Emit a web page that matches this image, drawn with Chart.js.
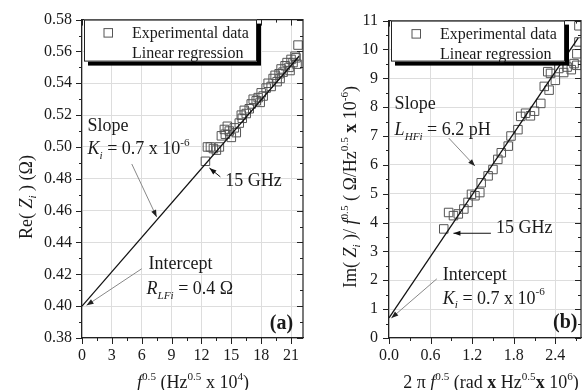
<!DOCTYPE html>
<html>
<head>
<meta charset="utf-8">
<script src="https://cdn.jsdelivr.net/npm/chart.js@4.4.1/dist/chart.umd.min.js"></script>
<style>
    html, body { margin: 0; padding: 0; background: #fff; }
    #wrap { position: relative; width: 588px; height: 390px; overflow: hidden; }
    #chartA { position: absolute; left: 0; top: 0; }
    #chartB { position: absolute; left: 310px; top: 0; }
</style>
</head>
<body>
<div id="wrap">
    <canvas id="chartA" width="310" height="390"></canvas>
    <canvas id="chartB" width="278" height="390"></canvas>
</div>
<script>
// ===============================
// DATA - panel (a): Re(Zi) vs f^0.5
// ===============================
const reX = [12.4, 12.6, 12.9, 13.2, 13.5, 13.8, 14.0, 14.3, 14.4, 14.6, 14.8, 15.0, 15.3, 15.5, 15.8,
    16.0, 16.1, 16.3, 16.5, 16.8, 17.0, 17.2, 17.5, 17.7, 17.9, 18.0, 18.2, 18.5, 18.7, 19.0,
    19.2, 19.4, 19.6, 19.8, 19.9, 20.0, 20.2, 20.4, 20.6, 20.8, 20.9, 21.0, 21.2, 21.4, 21.5, 21.6, 21.7];
const reY = [0.491, 0.500, 0.500, 0.499, 0.498, 0.500, 0.507, 0.511, 0.508, 0.513, 0.510, 0.506, 0.512, 0.509, 0.515,
    0.520, 0.518, 0.523, 0.521, 0.524, 0.527, 0.530, 0.529, 0.531, 0.528, 0.534, 0.532, 0.537, 0.540, 0.538,
    0.543, 0.545, 0.541, 0.546, 0.543, 0.549, 0.547, 0.551, 0.553, 0.550, 0.548, 0.555, 0.553, 0.557, 0.556, 0.552, 0.564];
const reFitX = [0, 21.8];
const reFitY = [0.400, 0.557];
const reXTicks = [0, 3, 6, 9, 12, 15, 18, 21];
const reYTicks = [0.38, 0.40, 0.42, 0.44, 0.46, 0.48, 0.50, 0.52, 0.54, 0.56, 0.58];

// ===============================
// DATA - panel (b): Im(Zi)/f^0.5 vs 2 pi f^0.5
// ===============================
const imX = [0.79, 0.86, 0.93, 1.00, 1.08, 1.14, 1.19, 1.24, 1.31, 1.33, 1.43, 1.50, 1.57, 1.62, 1.72, 1.76,
    1.86, 1.90, 1.97, 2.04, 2.10, 2.19, 2.24, 2.29, 2.31, 2.33, 2.40, 2.45, 2.52, 2.57, 2.63, 2.67, 2.71, 2.71, 2.74, 2.74];
const imY = [3.78, 4.35, 4.24, 4.30, 4.47, 4.70, 4.98, 4.93, 5.04, 5.38, 5.62, 5.84, 6.19, 6.42, 6.65, 7.00,
    7.22, 7.68, 7.79, 7.70, 7.86, 8.13, 8.72, 9.23, 8.59, 9.17, 8.93, 9.34, 9.20, 9.39, 9.30, 9.51, 9.45, 9.85, 10.26, 10.82];
const imFitX = [0, 2.73];
const imFitY = [0.70, 10.40];
const imXTicks = [0, 0.6, 1.2, 1.8, 2.4];
const imYTicks = [0, 1, 2, 3, 4, 5, 6, 7, 8, 9, 10, 11];

// ===============================
// TEXT HELPERS
// ===============================
const SERIF = '"Liberation Serif", "Times New Roman", serif';
const INK = '#1a1a1a';

// segs: [{t, i (italic), b (bold), sup, sub}]
function drawRich(ctx, x, y, segs, size, align, rot) {
    ctx.save();
    ctx.translate(x, y);
    if (rot) ctx.rotate(rot);
    let total = 0;
    const parts = segs.map(s => {
        const fs = (s.sup || s.sub) ? size * 0.62 : size;
        const font = (s.i ? 'italic ' : '') + (s.b ? 'bold ' : '') + fs + 'px ' + SERIF;
        ctx.font = font;
        const w = ctx.measureText(s.t).width;
        const dy = s.sup ? -size * 0.45 : s.sub ? size * 0.25 : 0;
        total += w;
        return { t: s.t, font, w, dy };
    });
    let cx = align === 'center' ? -total / 2 : align === 'right' ? -total : 0;
    ctx.textBaseline = 'alphabetic';
    ctx.textAlign = 'left';
    ctx.fillStyle = INK;
    const base = size * 0.33;
    parts.forEach(p => {
        ctx.font = p.font;
        ctx.fillText(p.t, cx, base + p.dy);
        cx += p.w;
    });
    ctx.restore();
}

function arrow(ctx, x1, y1, x2, y2, lineColor, headColor) {
    ctx.save();
    ctx.strokeStyle = lineColor;
    ctx.lineWidth = 1;
    ctx.beginPath();
    ctx.moveTo(x1, y1);
    ctx.lineTo(x2, y2);
    ctx.stroke();
    const ang = Math.atan2(y2 - y1, x2 - x1);
    const len = 7, half = 2.6;
    ctx.fillStyle = headColor;
    ctx.beginPath();
    ctx.moveTo(x2, y2);
    ctx.lineTo(x2 - len * Math.cos(ang) + half * Math.sin(ang), y2 - len * Math.sin(ang) - half * Math.cos(ang));
    ctx.lineTo(x2 - len * Math.cos(ang) - half * Math.sin(ang), y2 - len * Math.sin(ang) + half * Math.cos(ang));
    ctx.closePath();
    ctx.fill();
    ctx.restore();
}

// midpoints between majors (plus one past the last if it fits)
function minorsOf(ticks, max) {
    const out = [];
    for (let i = 0; i < ticks.length - 1; i++) out.push((ticks[i] + ticks[i + 1]) / 2);
    const step = ticks[1] - ticks[0];
    const extra = ticks[ticks.length - 1] + step / 2;
    if (extra <= max) out.push(extra);
    return out;
}

// ===============================
// DECORATION PLUGIN (frame, ticks, legend, notes, titles)
// ===============================
function decor(o) {
    return {
        id: 'decor',
        afterDraw(chart) {
            const { ctx, chartArea: a, scales: { x, y } } = chart;
            ctx.save();
            ctx.strokeStyle = '#222';
            ctx.lineWidth = 1.2;
            ctx.beginPath();
            ctx.moveTo(a.left, a.top);
            ctx.lineTo(a.right, a.top);
            ctx.lineTo(a.right, a.bottom);
            ctx.stroke();

            ctx.lineWidth = 1;
            const tickX = (vals, len) => vals.forEach(v => {
                const px = Math.round(x.getPixelForValue(v)) + 0.5;
                ctx.beginPath(); ctx.moveTo(px, a.bottom); ctx.lineTo(px, a.bottom + len); ctx.stroke();
                ctx.beginPath(); ctx.moveTo(px, a.top); ctx.lineTo(px, a.top + len); ctx.stroke();
            });
            const tickY = (vals, len) => vals.forEach(v => {
                const py = Math.round(y.getPixelForValue(v)) + 0.5;
                ctx.beginPath(); ctx.moveTo(a.left - len, py); ctx.lineTo(a.left, py); ctx.stroke();
                ctx.beginPath(); ctx.moveTo(a.right - len, py); ctx.lineTo(a.right, py); ctx.stroke();
            });
            tickX(o.xTicks, 6);
            tickX(minorsOf(o.xTicks, o.xMax), 3);
            tickY(o.yTicks, 6);
            tickY(minorsOf(o.yTicks, o.yMax), 3);

            // legend box with hard shadow
            const lg = o.legend;
            const lx = a.left + 2, ly = a.top;
            ctx.fillStyle = '#000';
            ctx.fillRect(lx + 4, ly + 4, lg.w, lg.h);
            ctx.fillStyle = '#fff';
            ctx.fillRect(lx, ly, lg.w, lg.h);
            ctx.strokeStyle = '#222';
            ctx.lineWidth = 1;
            ctx.strokeRect(lx + 0.5, ly + 0.5, lg.w - 1, lg.h - 1);
            ctx.strokeStyle = '#555';
            ctx.strokeRect(lx + lg.mx - 4, ly + 13 - 4, 8.5, 8.5);
            drawRich(ctx, lx + lg.tx, ly + 13.5, [{ t: 'Experimental data' }], 16, 'left');
            drawRich(ctx, lx + lg.tx, ly + 33, [{ t: 'Linear regression' }], 16, 'left');

            // arrows
            o.arrows.forEach(ar => arrow(ctx,
                x.getPixelForValue(ar.from[0]), y.getPixelForValue(ar.from[1]),
                x.getPixelForValue(ar.to[0]), y.getPixelForValue(ar.to[1]),
                ar.line, ar.head));

            // notes
            o.notes.forEach(n => drawRich(ctx, x.getPixelForValue(n.x), y.getPixelForValue(n.y),
                n.segs, n.size, n.align || 'left'));

            // axis titles
            drawRich(ctx, o.yTitle.x, o.yTitle.y, o.yTitle.segs, 18, 'center', -Math.PI / 2);
            drawRich(ctx, o.xTitle.x, o.xTitle.y, o.xTitle.segs, 18, 'center');
            ctx.restore();
        }
    };
}

// ===============================
// CHART FACTORY
// ===============================
function makeChart(id, o) {
    const tickFont = { family: SERIF, size: 16 };
    return new Chart(document.getElementById(id), {
        type: 'scatter',
        data: {
            datasets: [
                {
                    type: 'line',
                    data: o.fitX.map((v, i) => ({ x: v, y: o.fitY[i] })),
                    borderColor: '#111', borderWidth: 1.3, pointRadius: 0, fill: false, tension: 0
                },
                {
                    data: o.x.map((v, i) => ({ x: v, y: o.y[i] })),
                    pointStyle: 'rect', pointRadius: 6, borderWidth: 1,
                    borderColor: '#555', backgroundColor: 'rgba(0,0,0,0)'
                }
            ]
        },
        options: {
            responsive: false,
            animation: false,
            events: [],
            layout: { padding: { left: 0, top: 16, right: 4, bottom: 0 } },
            plugins: { legend: { display: false }, tooltip: { enabled: false } },
            scales: {
                x: {
                    type: 'linear', min: o.xMin, max: o.xMax,
                    afterFit: s => { s.height = 52; },
                    afterBuildTicks: s => { s.ticks = o.xTicks.map(v => ({ value: v })); },
                    ticks: { font: tickFont, color: INK, padding: 8, maxRotation: 0, callback: o.xFmt },
                    grid: { color: '#dddddd', drawTicks: false },
                    border: { color: '#222', width: 1.2 }
                },
                y: {
                    type: 'linear', min: o.yMin, max: o.yMax,
                    afterFit: s => { s.width = o.yAxisW; },
                    afterBuildTicks: s => { s.ticks = o.yTicks.map(v => ({ value: v })); },
                    ticks: { font: tickFont, color: INK, padding: o.yPad, callback: o.yFmt },
                    grid: { color: '#dddddd', drawTicks: false },
                    border: { color: '#222', width: 1.2 }
                }
            }
        },
        plugins: [decor(o)]
    });
}

// ===============================
// INIT
// ===============================
const expo6 = [{ t: ' = 0.7 x 10' }, { t: '-6', sup: true }];

makeChart('chartA', {
    x: reX, y: reY, fitX: reFitX, fitY: reFitY,
    xTicks: reXTicks, yTicks: reYTicks,
    xMin: 0, xMax: 22.2, yMin: 0.38, yMax: 0.58,
    yAxisW: 82, yPad: 10,
    xFmt: v => String(v), yFmt: v => v.toFixed(2),
    legend: { w: 173, h: 42, mx: 24, tx: 48 },
    arrows: [
        { from: [5.0, 0.4893], to: [7.5, 0.456], line: '#888', head: '#222' },
        { from: [13.9, 0.4812], to: [12.8, 0.4868], line: '#111', head: '#111' },
        { from: [6.0, 0.4235], to: [0.46, 0.4005], line: '#888', head: '#222' }
    ],
    notes: [
        { x: 0.56, y: 0.5135, size: 18, segs: [{ t: 'Slope' }] },
        { x: 0.56, y: 0.4993, size: 18, segs: [{ t: 'K', i: true }, { t: 'i', i: true, sub: true }].concat(expo6) },
        { x: 14.4, y: 0.4794, size: 18, segs: [{ t: '15 GHz' }] },
        { x: 6.68, y: 0.4268, size: 18, segs: [{ t: 'Intercept' }] },
        { x: 6.49, y: 0.4112, size: 18, segs: [{ t: 'R', i: true }, { t: 'LFi', i: true, sub: true }, { t: ' = 0.4 Ω' }] },
        { x: 21.2, y: 0.3901, size: 20, align: 'right', segs: [{ t: '(a)', b: true }] }
    ],
    yTitle: { x: 26, y: 197, segs: [{ t: 'Re( ' }, { t: 'Z', i: true }, { t: 'i', i: true, sub: true }, { t: ' ) (Ω)' }] },
    xTitle: { x: 193, y: 382, segs: [{ t: 'f', i: true }, { t: '0.5', sup: true }, { t: ' (Hz' }, { t: '0.5', sup: true },
        { t: ' x 10' }, { t: '4', sup: true }, { t: ')' }] }
});

makeChart('chartB', {
    x: imX, y: imY, fitX: imFitX, fitY: imFitY,
    xTicks: imXTicks, yTicks: imYTicks,
    xMin: 0, xMax: 2.77, yMin: 0, yMax: 11,
    yAxisW: 79, yPad: 11,
    xFmt: v => v.toFixed(1), yFmt: v => String(v),
    legend: { w: 174, h: 41, mx: 25, tx: 49 },
    arrows: [
        { from: [0.862, 6.93], to: [1.24, 5.96], line: '#888', head: '#222' },
        { from: [1.47, 3.63], to: [0.93, 3.63], line: '#111', head: '#111' },
        { from: [0.69, 2.05], to: [0.034, 0.69], line: '#888', head: '#222' }
    ],
    notes: [
        { x: 0.081, y: 8.13, size: 18, segs: [{ t: 'Slope' }] },
        { x: 0.081, y: 7.24, size: 18, segs: [{ t: 'L', i: true }, { t: 'HFi', i: true, sub: true }, { t: ' = 6.2 pH' }] },
        { x: 1.544, y: 3.84, size: 18, segs: [{ t: '15 GHz' }] },
        { x: 0.777, y: 2.23, size: 18, segs: [{ t: 'Intercept' }] },
        { x: 0.777, y: 1.40, size: 18, segs: [{ t: 'K', i: true }, { t: 'i', i: true, sub: true }].concat(expo6) },
        { x: 2.72, y: 0.57, size: 20, align: 'right', segs: [{ t: '(b)', b: true }] }
    ],
    yTitle: { x: 40, y: 187, segs: [{ t: 'Im( ' }, { t: 'Z', i: true }, { t: 'i', i: true, sub: true }, { t: ' )/ ' },
        { t: 'f', i: true }, { t: '0.5', sup: true }, { t: ' ( Ω/Hz' }, { t: '0.5', sup: true },
        { t: ' ' }, { t: 'x', b: true }, { t: ' 10' }, { t: '-6', sup: true }, { t: ')' }] },
    xTitle: { x: 181, y: 382, segs: [{ t: '2 π ' }, { t: 'f', i: true }, { t: '0.5', sup: true }, { t: ' (rad ' },
        { t: 'x', b: true }, { t: ' Hz' }, { t: '0.5', sup: true }, { t: 'x', b: true }, { t: ' 10' }, { t: '6', sup: true }, { t: ')' }] }
});
</script>
</body>
</html>
